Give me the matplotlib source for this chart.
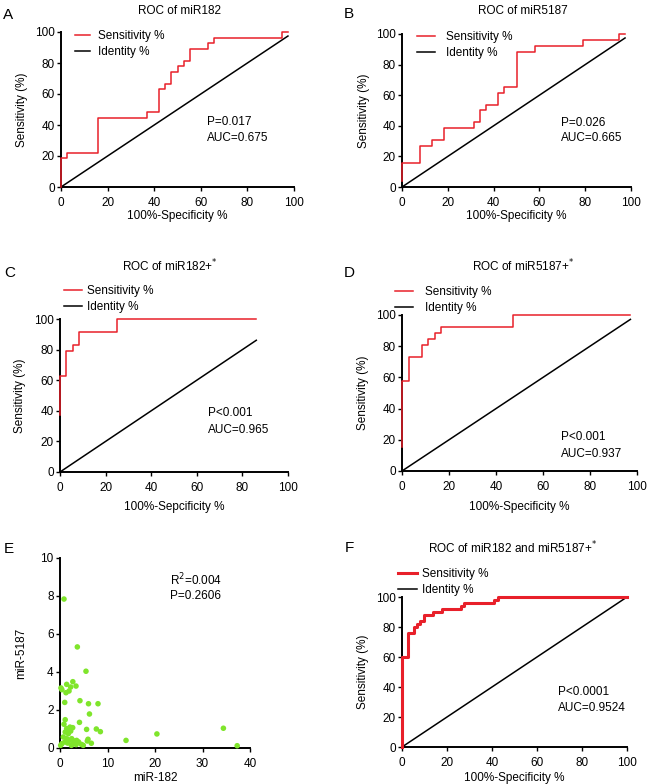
import matplotlib
matplotlib.use('Agg')
import matplotlib.pyplot as plt
import numpy as np

plt.rcParams['font.family'] = ['Liberation Sans', 'DejaVu Sans']

RED = '#e8202a'
GREEN = '#7fe52b'

# ROC corner points (100%-specificity, sensitivity)
a_fpr = [0, 0, 2.6, 15.8, 36.8, 42.1, 44.7, 47.4, 50.0, 52.6, 55.3, 63.2, 65.8, 94.7, 97.4]
a_tpr = [0, 18.5, 22.2, 44.4, 48.1, 63.0, 66.7, 74.1, 77.8, 81.5, 88.9, 92.6, 96.3, 100, 100]

b_fpr = [0, 0, 7.9, 13.2, 18.4, 31.6, 34.2, 36.8, 42.1, 44.7, 50.0, 57.9, 78.9, 94.7, 97.4]
b_tpr = [3.8, 15.4, 26.9, 30.8, 38.5, 42.3, 50.0, 53.8, 61.5, 65.4, 88.5, 92.3, 96.2, 100, 100]

c_fpr = [0, 0, 2.8, 5.6, 8.3, 25.0, 86.1]
c_tpr = [37.5, 62.5, 79.2, 83.3, 91.7, 100, 100]

d_fpr = [0, 0, 2.8, 8.3, 11.1, 13.9, 16.7, 47.2, 97.2]
d_tpr = [15.4, 57.7, 73.1, 80.8, 84.6, 88.5, 92.3, 100, 100]

f_fpr = [0, 0, 2.7, 5.5, 6.8, 8.2, 9.6, 13.7, 17.8, 26.0, 27.4, 41.1, 42.5, 100]
f_tpr = [0, 60, 76, 80, 82, 84, 88, 90, 92, 94, 96, 98, 100, 100]

# correlation scatter (miR-182, miR-5187)
e_x = [0.84, 3.65, 5.47, 0.2, 0.4, 1.4, 1.26, 1.9, 2.25, 2.7, 3.37, 1.0, 4.2, 6.0, 8.0,
       6.2, 1.1, 4.1, 0.84, 1.4, 2.1, 2.67, 5.6, 7.65, 8.5, 1.1, 1.75, 2.25, 0.7, 1.4,
       1.96, 2.46, 2.95, 3.5, 3.9, 5.9, 5.75, 6.6, 0.4, 1.0, 1.6, 2.4, 2.8, 4.5, 4.9,
       3.4, 0.14, 13.9, 20.4, 34.4, 37.3]
e_y = [7.84, 5.32, 4.04, 3.16, 3.07, 3.35, 2.91, 3.0, 3.21, 3.49, 3.26, 2.4, 2.49, 2.33, 2.33,
       1.79, 1.49, 1.35, 1.25, 1.02, 1.1, 1.07, 0.98, 1.0, 0.86, 0.84, 0.75, 0.89, 0.58, 0.49,
       0.4, 0.49, 0.37, 0.4, 0.32, 0.46, 0.37, 0.25, 0.23, 0.32, 0.26, 0.14, 0.23, 0.19, 0.14,
       0.18, 0.14, 0.4, 0.74, 1.04, 0.12]

W, H = 659, 784
FS = 8.5


def px_axes(fig, box):
    x0, y0, x1, y1 = box
    return fig.add_axes([x0 / W, 1 - y1 / H, (x1 - x0) / W, (y1 - y0) / H])


def style(ax, box, xlab_y, ylab_x):
    x0, y0, x1, y1 = box
    for s in ['top', 'right']:
        ax.spines[s].set_visible(False)
    for s in ['left', 'bottom']:
        ax.spines[s].set_linewidth(1.4)
    ax.tick_params(direction='out', length=3, width=1.0, labelsize=FS)
    ax.tick_params(axis='x', pad=4.5)
    ax.tick_params(axis='y', pad=1.5)
    # label positions given as pixel centres
    ax.xaxis.set_label_coords(0.5, -(xlab_y - 4 - y1) / (y1 - y0))
    ax.yaxis.set_label_coords(-(x0 - ylab_x - 8) / (x1 - x0), 0.5)


def ftext(fig, x, y, s, **kw):
    fig.text(x / W, 1 - y / H, s, va='center', **kw)


def roc_panel(fig, box, fpr, tpr, end, xlabel, labs, leg, stats, red_lw=1.1):
    ax = px_axes(fig, box)
    style(ax, box, *labs)
    ax.plot(fpr, tpr, color=RED, lw=red_lw, drawstyle='steps-post', clip_on=False,
            label='Sensitivity %', zorder=3)
    ax.plot([0, end], [0, end], color='black', lw=1.1, clip_on=False, label='Identity %')
    ax.set_xlim(0, 100)
    ax.set_ylim(0, 100)
    ax.set_xticks(np.arange(0, 101, 20))
    ax.set_yticks(np.arange(0, 101, 20))
    ax.set_xlabel(xlabel, fontsize=FS)
    ax.set_ylabel('Sensitivity (%)', fontsize=FS)
    lx, ly, hl, tp = leg
    ax.legend(loc='upper left', bbox_to_anchor=(lx / W, 1 - (ly - 5) / H), bbox_transform=fig.transFigure,
              frameon=False, fontsize=FS, handlelength=hl, handletextpad=tp, labelspacing=0.38,
              borderpad=0, borderaxespad=0)
    sx, sy, sy2, s1, s2 = stats
    ftext(fig, sx, sy, s1, fontsize=FS)
    ftext(fig, sx, sy2, s2, fontsize=FS)
    return ax


fig = plt.figure(figsize=(W / 100, H / 100), dpi=100)

# A
roc_panel(fig, (61, 32, 294, 187), a_fpr, a_tpr, 97.4, '100%-Specificity %', (214, 20),
          (75, 35, 1.27, 0.68), (207, 122, 138, 'P=0.017', 'AUC=0.675'))
ftext(fig, 180, 11, 'ROC of miR182', fontsize=FS, ha='center')
ftext(fig, 3, 15, 'A', fontsize=11)

# B
roc_panel(fig, (402, 34, 631, 187), b_fpr, b_tpr, 97.4, '100%-Specificity %', (214, 362),
          (417, 36, 1.5, 0.93), (561, 123, 138, 'P=0.026', 'AUC=0.665'))
ftext(fig, 523, 11, 'ROC of miR5187', fontsize=FS, ha='center')
ftext(fig, 344, 14, 'B', fontsize=11)

# C
roc_panel(fig, (60, 319, 288, 472), c_fpr, c_tpr, 86.1, '100%-Sepcificity %', (505, 18),
          (64, 290, 1.5, 0.42), (208, 413, 430, 'P<0.001', 'AUC=0.965'))
ftext(fig, 170, 266, r'ROC of miR182+$^{*}$', fontsize=FS, ha='center')
ftext(fig, 4, 273, 'C', fontsize=11)

# D
roc_panel(fig, (402, 315, 637, 471), d_fpr, d_tpr, 97.2, '100%-Specificity %', (505, 361),
          (395, 291, 1.5, 1.0), (561, 437, 454, 'P<0.001', 'AUC=0.937'))
ftext(fig, 523, 266, r'ROC of miR5187+$^{*}$', fontsize=FS, ha='center')
ftext(fig, 344, 273, 'D', fontsize=11)

# E
e_box = (60, 558, 250, 748)
ax = px_axes(fig, e_box)
style(ax, e_box, 776, 19)
ax.scatter(e_x, e_y, s=16, color=GREEN, edgecolors='none', clip_on=False, zorder=3)
ax.set_xlim(0, 40)
ax.set_ylim(0, 10)
ax.set_xticks(np.arange(0, 41, 10))
ax.set_yticks(np.arange(0, 11, 2))
ax.set_xlabel('miR-182', fontsize=FS)
ax.set_ylabel('miR-5187', fontsize=FS)
ftext(fig, 170, 580, r'R$^2$=0.004', fontsize=FS)
ftext(fig, 170, 596, 'P=0.2606', fontsize=FS)
ftext(fig, 4, 549, 'E', fontsize=11)

# F
roc_panel(fig, (402, 597, 627, 747), f_fpr, f_tpr, 100, '100%-Specificity %', (776, 361),
          (398, 573, 1.6, 0.42), (558, 692, 708, 'P<0.0001', 'AUC=0.9524'), red_lw=2.2)
ftext(fig, 513, 548, r'ROC of miR182 and miR5187+$^{*}$', fontsize=FS, ha='center')
ftext(fig, 345, 548, 'F', fontsize=11)

fig.savefig('out.png', dpi=100)
